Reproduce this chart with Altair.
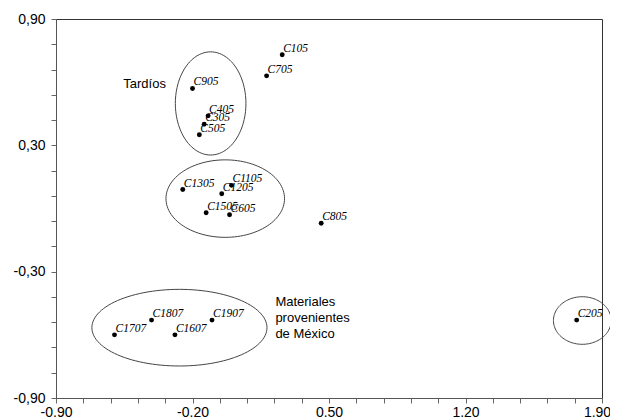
import altair as alt
import pandas as pd
import numpy as np

# ---- data ----
labels = ["C105", "C705", "C905", "C405", "C305", "C505", "C1305", "C1105", "C1205",
          "C1505", "C605", "C805", "C1707", "C1807", "C1607", "C1907", "C205"]
xs = [0.26, 0.18, -0.20, -0.12, -0.14, -0.165, -0.25, 0.00, -0.05,
      -0.13, -0.01, 0.46, -0.60, -0.41, -0.29, -0.10, 1.77]
ys = [0.73, 0.63, 0.57, 0.44, 0.40, 0.35, 0.09, 0.11, 0.07,
      -0.02, -0.03, -0.07, -0.60, -0.53, -0.60, -0.53, -0.53]

# group ellipses (center and radii in data units)
ell_name = ["tardios", "centro", "mexico", "c205"]
ell_cx = [-0.107, -0.032, -0.267, 1.799]
ell_cy = [0.499, 0.047, -0.566, -0.532]
ell_rx = [0.181, 0.304, 0.449, 0.148]
ell_ry = [0.245, 0.184, 0.182, 0.113]

# annotations
notes = ["Tardíos", "Materiales", "provenientes", "de México"]
note_x = [-0.555, 0.225, 0.225, 0.225]
note_y = [0.591, -0.444, -0.520, -0.596]

# axis ticks
x_ticks = [round(-0.9 + 0.14 * i, 2) for i in range(21)]
y_ticks = [round(-0.9 + 0.12 * i, 2) for i in range(16)]
x_step = 0.7   # labelled every 5th tick
y_step = 0.6

# ---- tables ----
pts = pd.DataFrame({"label": labels, "x": xs, "y": ys})

theta = np.linspace(0, 2 * np.pi, 121)
rows = []
for n, cx, cy, rx, ry in zip(ell_name, ell_cx, ell_cy, ell_rx, ell_ry):
    for i, t in enumerate(theta):
        rows.append({"g": n, "i": i, "x": cx + rx * np.cos(t), "y": cy + ry * np.sin(t)})
ell = pd.DataFrame(rows)

nt = pd.DataFrame({"text": notes, "x": note_x, "y": note_y})

MINUS = "\u2212"
x_expr = ("abs((datum.value + 0.9) / %s - round((datum.value + 0.9) / %s)) < 0.01 ? "
          "replace(format(datum.value, '.2f'), '%s', '-') : ''" % (x_step, x_step, MINUS))
y_expr = ("abs((datum.value + 0.9) / %s - round((datum.value + 0.9) / %s)) < 0.01 ? "
          "replace(replace(format(datum.value, '.2f'), '.', ','), '%s', '-') : ''"
          % (y_step, y_step, MINUS))

xscale = alt.Scale(domain=[-0.9, 1.9], nice=False, zero=False)
yscale = alt.Scale(domain=[-0.9, 0.9], nice=False, zero=False)

common_axis = dict(title=None, grid=False, tickSize=5, tickColor="#666", domainColor="#555",
                   labelFont="Liberation Sans", labelFontSize=14, labelColor="black",
                   labelOverlap=False, labelFlush=False, labelBound=False)
xaxis = alt.Axis(values=x_ticks, labelExpr=x_expr, labelPadding=2,
                 labelOffset=alt.condition("datum.value > 1.85", alt.value(-5), alt.value(0)),
                 **common_axis)
yaxis = alt.Axis(values=y_ticks, labelExpr=y_expr, labelPadding=6, **common_axis)

X = alt.X("x:Q", scale=xscale, axis=xaxis)
Y = alt.Y("y:Q", scale=yscale, axis=yaxis)

ellipses = alt.Chart(ell).mark_line(color="#444", strokeWidth=1).encode(
    x=X, y=Y, detail="g:N", order="i:Q",
)

points = alt.Chart(pts).mark_circle(size=24, color="black", opacity=1).encode(x=X, y=Y)

ptlabels = alt.Chart(pts).mark_text(
    align="left", baseline="middle", dx=1, dy=-6,
    font="Liberation Serif", fontStyle="italic", fontSize=11.5, color="black"
).encode(x=X, y=Y, text="label:N")

notes_layer = alt.Chart(nt).mark_text(
    align="left", baseline="middle", font="Liberation Sans", fontSize=13, color="black"
).encode(x=X, y=Y, text="text:N")

chart = alt.layer(ellipses, points, ptlabels, notes_layer).properties(
    width=546, height=379,
    autosize=alt.AutoSizeParams(type="none"),
    padding={"left": 48, "top": 11, "right": 8, "bottom": 30},
    background="white",
).configure_view(stroke="#333", strokeWidth=1).configure_axis(labelOverlap=False)

chart.save("out.html", embed_options={"renderer": "svg", "actions": False})
